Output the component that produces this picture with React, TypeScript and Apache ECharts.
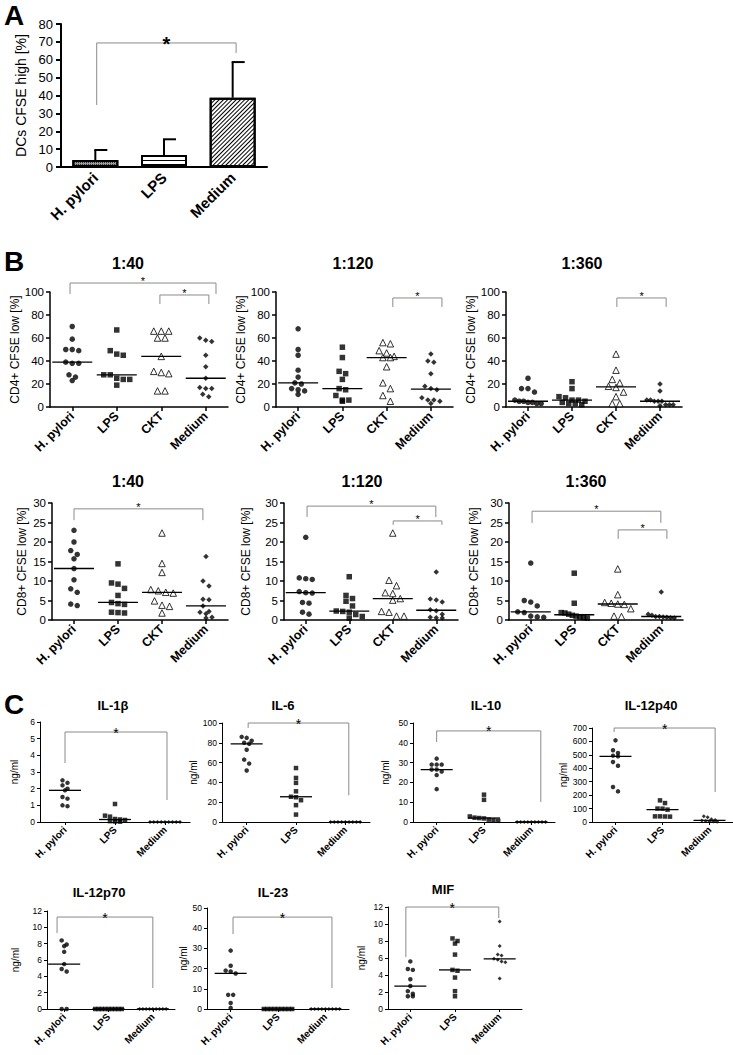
import React, { useEffect, useRef } from 'react';
import * as echarts from 'echarts';

const FONT = "'Liberation Sans', Arial, Helvetica, sans-serif";

// ---------- Panel A data ----------
const catsA = ['H. pylori', 'LPS', 'Medium'];
const meanA = [3.9, 6.7, 38.8];
const errA = [5.6, 8.8, 19.9];

// ---------- Panel B data ----------
const catsB = ['H. pylori', 'LPS', 'CKT', 'Medium'];
const cd4_1_40 = [
  [70, 59, 50, 50, 49, 39, 38, 38, 28, 26, 23],
  [67, 49, 46, 45, 28, 28, 25, 24, 24, 19],
  [66, 66, 66, 60, 60, 44, 31, 30, 29, 14, 14],
  [60, 58, 57, 45, 35, 25, 17, 16, 16, 11, 9],
];
const cd4_1_120 = [
  [68, 50, 45, 32, 26, 21, 20, 16, 15, 14, 11],
  [52, 43, 31, 29, 24, 16, 15, 10, 6, 6, 5],
  [56, 55, 49, 47, 44, 43, 43, 35, 21, 16, 10, 5],
  [46, 40, 39, 29, 18, 16, 15, 8, 6, 6, 5, 3],
];
const cd4_1_360 = [
  [25, 16, 16, 13, 6, 5, 5, 4, 4, 3, 3],
  [22, 16, 9, 8, 6, 6, 5, 4, 3, 3, 2],
  [46, 32, 24, 21, 18, 17, 13, 9, 3, 3],
  [20, 14, 6, 6, 5, 5, 5, 2, 2, 2, 1],
];
const cd8_1_40 = [
  [23, 20, 17.8, 16.8, 15.7, 13.2, 10.3, 8, 7.1, 4.1, 3.7],
  [14.4, 9.5, 9.2, 8.1, 6.3, 4.5, 4.2, 4.0, 2.0, 1.9, 1.8],
  [22.3, 14.5, 12.2, 7.8, 7.5, 7.1, 6.9, 4.9, 3.8, 3.5, 1.8],
  [16.3, 10, 8.7, 5.3, 5.2, 3.6, 2.2, 2.0, 1.6, 0.7, 0.5],
];
const cd8_1_120 = [
  [21.2, 10.8, 10.6, 10.4, 7.3, 7.0, 6.9, 4.5, 4.3, 2.0, 1.5],
  [11.1, 6.3, 5.5, 4.8, 3.6, 2.3, 2.2, 2.0, 1.4, 0.9, 0.5],
  [22.3, 10.2, 8.8, 7.0, 6.8, 5.5, 5.1, 2.2, 2.0, 1.0, 1.0],
  [12.3, 5.4, 5.1, 4.6, 2.6, 2.4, 1.5, 0.7, 0.6, 0.5],
];
const cd8_1_360 = [
  [14.6, 5.0, 4.6, 3.6, 2.1, 1.9, 1.0, 0.8, 0.7],
  [12, 4.3, 1.9, 1.8, 1.5, 1.2, 1.0, 0.8, 0.6, 0.5],
  [13.1, 6.5, 4.5, 4.3, 4.1, 4.0, 2.9, 1.0, 0.9],
  [7.2, 1.5, 1.2, 0.9, 0.9, 0.8, 0.7, 0.6, 0.5],
];

// ---------- Panel C data ----------
const catsC = ['H. pylori', 'LPS', 'Medium'];
const il1b = [
  [2.5, 2.35, 2.2, 2.0, 1.9, 1.5, 1.4, 1.0, 0.95],
  [1.08, 0.38, 0.32, 0.18, 0.15, 0.12, 0.05, 0.03, 0.02],
  [0, 0, 0, 0, 0, 0, 0, 0, 0],
];
const il6 = [
  [86, 85, 82, 80, 79, 73, 63, 59, 52],
  [54.5, 44.5, 39.5, 31, 25.5, 25, 22, 17, 7.5],
  [0, 0, 0, 0, 0, 0, 0, 0, 0],
];
const il10 = [
  [32, 29, 29, 29, 26.5, 26.5, 25.5, 23.7, 16.6],
  [13.8, 11.2, 2.8, 2.2, 2.0, 1.8, 1.2, 0.8, 0.6],
  [0, 0, 0, 0, 0, 0, 0, 0, 0],
];
const il12p40 = [
  [608, 534, 514, 494, 489, 447, 419, 261, 228],
  [161, 141, 100, 99, 92, 42, 42, 41, 40],
  [43, 35, 20, 15, 12, 8, 5, 3, 2],
];
const il12p70 = [
  [8.4, 7.9, 7.7, 7.0, 5.5, 4.9, 4.6, 0, 0],
  [0, 0, 0, 0, 0, 0, 0, 0, 0],
  [0, 0, 0, 0, 0, 0, 0, 0, 0],
];
const il23 = [
  [28.9, 21.4, 19, 18.6, 17.6, 7, 7, 3, 0.5],
  [0, 0, 0, 0, 0, 0, 0, 0, 0],
  [0, 0, 0, 0, 0, 0, 0, 0, 0],
];
const mif = [
  [5.6, 4.7, 4.6, 3.5, 2.7, 2.1, 1.8, 1.5, 1.5],
  [8.3, 8.0, 7.7, 6.4, 4.6, 4.5, 3.7, 2.1, 1.5],
  [10.3, 7.4, 6.4, 6.3, 5.9, 5.8, 5.6, 5.5, 3.6],
];

// ---------- layout (positions / styles) ----------
const plotsB = [
  { title: '1:40', data: cd4_1_40, yName: 'CD4+ CFSE low [%]', max: 100, interval: 20, left: 50, top: 292, width: 178, height: 115, titleX: 128, titleY: 263, nameGap: 27, brackets: [[-0.05, 3.23, 107.8, 98.3, 98.3], [1.97, 3.07, 97.4, 89.6, 89.6]] },
  { title: '1:120', data: cd4_1_120, yName: 'CD4+ CFSE low [%]', max: 100, interval: 20, left: 276, top: 292, width: 177, height: 115, titleX: 353, titleY: 263, nameGap: 24, brackets: [[2.14, 3.25, 94.8, 87, 87]] },
  { title: '1:360', data: cd4_1_360, yName: 'CD4+ CFSE low [%]', max: 100, interval: 20, left: 506, top: 292, width: 176, height: 115, titleX: 582, titleY: 263, nameGap: 26, brackets: [[2.02, 3.14, 94.8, 87, 87]] },
  { title: '1:40', data: cd8_1_40, yName: 'CD8+ CFSE low [%]', max: 30, interval: 5, left: 52, top: 503, width: 176, height: 117, titleX: 128, titleY: 481, nameGap: 24, brackets: [[0, 2.93, 28.5, 25.6, 25.6]] },
  { title: '1:120', data: cd8_1_120, yName: 'CD8+ CFSE low [%]', max: 30, interval: 5, left: 284, top: 503, width: 174, height: 117, titleX: 362, titleY: 481, nameGap: 32, brackets: [[0.03, 2.99, 29.2, 26.4, 26.4], [2.01, 3.13, 25.4, 24.4, 24.4]] },
  { title: '1:360', data: cd8_1_360, yName: 'CD8+ CFSE low [%]', max: 30, interval: 5, left: 509, top: 503, width: 174, height: 117, titleX: 586, titleY: 481, nameGap: 29, brackets: [[0.03, 2.99, 27.9, 24.9, 24.9], [2.01, 3.13, 23.1, 20.8, 20.8]] },
];

const plotsC = [
  { title: 'IL-1β', data: il1b, yName: 'ng/ml', max: 6, interval: 1, left: 40, top: 722, width: 150, height: 100, titleX: 113, titleY: 705, nameGap: 21, brackets: [[0, 2.04, 5.4, 3.54, 1.32]] },
  { title: 'IL-6', data: il6, yName: 'ng/ml', max: 100, interval: 20, left: 222, top: 723, width: 148, height: 99, titleX: 283, titleY: 705, nameGap: 17, brackets: [[0.03, 2.07, 100, 95, 27]] },
  { title: 'IL-10', data: il10, yName: 'ng/ml', max: 50, interval: 10, left: 413, top: 723, width: 142, height: 99, titleX: 486, titleY: 705, nameGap: 23, brackets: [[0, 2.2, 46, 40.4, 10.1]] },
  { title: 'IL-12p40', data: il12p40, yName: 'ng/ml', max: 700, interval: 100, left: 592, top: 728, width: 141, height: 94, titleX: 651, titleY: 705, nameGap: 21, brackets: [[-0.03, 2.12, 700, 670, 223]] },
  { title: 'IL-12p70', data: il12p70, yName: 'ng/ml', max: 12, interval: 2, left: 42, offset: -5, top: 911, width: 133, height: 98, titleX: 99, titleY: 892, nameGap: 27, brackets: [[-0.16, 2.0, 11.26, 9.3, 2.57]] },
  { title: 'IL-23', data: il23, yName: 'ng/ml', max: 50, interval: 10, left: 207, top: 908, width: 142, height: 101, titleX: 273, titleY: 892, nameGap: 15, brackets: [[0.05, 2.14, 45.5, 37.1, 10.4]] },
  { title: 'MIF', data: mif, yName: 'ng/ml', max: 12, interval: 2, left: 388, top: 907, width: 134, height: 102, titleX: 443, titleY: 889, nameGap: 22, brackets: [[-0.1, 1.98, 12, 6.1, 10.7]] },
];

const styleA = { tickFont: 13, catFont: 15, nameFont: 14, axisW: 2, tickLen: 5, labelMargin: 8, catMargin: 8, starFont: 20, starBold: true, starDy: 1 };
const styleB = { tickFont: 11.5, catFont: 12.5, nameFont: 12, axisW: 1.5, tickLen: 4, labelMargin: 6, catMargin: 7, medW: 40, starFont: 11, starBold: false, starDy: -1.8, titleFont: 16 };
const styleC = { tickFont: 8.5, catFont: 10, nameFont: 10, axisW: 1, tickLen: 3, labelMargin: 5, catMargin: 6, medW: 32, starFont: 14, starBold: false, starDy: 0.5, titleFont: 13 };

const symB = ['circle', 'rect', 'triangle', 'diamond'];
const sizeB = [5.5, 5.5, 6.5, 5.5];
const stepB = [6.5, 6.5, 7.5, 6];
const symC = ['circle', 'rect', 'diamond'];
const sizeC = [4.5, 4.5, 4];
const stepC = [5, 5, 3.8];

function median(a: number[]) {
  const s = [...a].sort((x, y) => x - y);
  const n = s.length;
  return n % 2 ? s[(n - 1) / 2] : (s[n / 2 - 1] + s[n / 2]) / 2;
}

// horizontal spreading of points that share nearly the same height (layout only)
function swarm(vals: number[], ppu: number, size: number, step: number, maxW: number) {
  const order = vals.map((_, i) => i).sort((a, b) => vals[b] - vals[a]);
  const off: number[] = vals.map(() => 0);
  let row: number[] = [];
  let rowStart = 0;
  const flush = () => {
    const n = row.length;
    const s = n > 1 ? Math.min(step, maxW / (n - 1)) : 0;
    row.forEach((id, k) => { off[id] = (k - (n - 1) / 2) * s; });
  };
  order.forEach((id) => {
    const py = vals[id] * ppu;
    if (row.length && rowStart - py < size) row.push(id);
    else { flush(); row = [id]; rowStart = py; }
  });
  flush();
  return off;
}

function buildOption() {
  const grid: any[] = [];
  const xAxis: any[] = [];
  const yAxis: any[] = [];
  const series: any[] = [];
  const graphic: any[] = [];

  const addText = (text: string, x: number, y: number, size: number, bold = true, align = 'center') => {
    graphic.push({ type: 'text', x, y, silent: true, style: { text, textAlign: align, textVerticalAlign: 'middle', fontFamily: FONT, fontSize: size, fontWeight: bold ? 'bold' : 'normal', fill: '#000' } });
  };

  const addAxes = (i: number, cfg: any, cats: string[], st: any, showXTick: boolean) => {
    grid.push({ left: cfg.left, top: cfg.top, width: cfg.width, height: cfg.height });
    xAxis.push({
      type: 'category', gridIndex: i, data: cats, boundaryGap: true,
      axisLine: { show: true, onZero: false, lineStyle: { color: '#000', width: st.axisW } },
      axisTick: { show: showXTick, alignWithLabel: true, length: st.tickLen, lineStyle: { color: '#000', width: st.axisW } },
      axisLabel: { interval: 0, rotate: 45, margin: st.catMargin, fontFamily: FONT, fontSize: st.catFont, fontWeight: 'bold', color: '#000' },
      splitLine: { show: false },
    });
    yAxis.push({
      type: 'value', gridIndex: i, min: 0, max: cfg.max, interval: cfg.interval, offset: cfg.offset || 0,
      name: cfg.yName, nameLocation: 'middle', nameGap: cfg.nameGap,
      nameTextStyle: { fontFamily: FONT, fontSize: st.nameFont, color: '#000' },
      axisLine: { show: true, lineStyle: { color: '#000', width: st.axisW } },
      axisTick: { show: true, length: st.tickLen, lineStyle: { color: '#000', width: st.axisW } },
      axisLabel: { margin: st.labelMargin, fontFamily: FONT, fontSize: st.tickFont, color: '#000' },
      splitLine: { show: false },
    });
  };

  const addBrackets = (i: number, brs: number[][], st: any) => {
    series.push({
      type: 'custom', xAxisIndex: i, yAxisIndex: i, silent: true, z: 6,
      data: brs.map((b) => [0, b[2]]),
      renderItem: (params: any, api: any) => {
        const b = brs[params.dataIndex];
        const x0 = api.coord([0, 0])[0];
        const band = api.coord([1, 0])[0] - x0;
        const X = (t: number) => x0 + t * band;
        const Y = (v: number) => api.coord([0, v])[1];
        const xl = X(b[0]);
        const xr = X(b[1]);
        const yt = Y(b[2]);
        return {
          type: 'group',
          children: [
            { type: 'polyline', shape: { points: [[xl, Y(b[3])], [xl, yt], [xr, yt], [xr, Y(b[4])]] }, style: { stroke: '#8a8a8a', lineWidth: 1, fill: 'none' } },
            { type: 'text', style: { text: '*', x: (xl + xr) / 2, y: yt + st.starDy, textAlign: 'center', textVerticalAlign: 'middle', fontFamily: FONT, fontSize: st.starFont, fontWeight: st.starBold ? 'bold' : 'normal', fill: '#000' } },
          ],
        };
      },
    });
  };

  const addScatterPlot = (i: number, cfg: any, cats: string[], st: any, syms: string[], sizes: number[], steps: number[]) => {
    addAxes(i, cfg, cats, st, true);
    const ppu = cfg.height / cfg.max;
    const band = cfg.width / cats.length;
    cfg.data.forEach((g: number[], k: number) => {
      const offs = swarm(g, ppu, sizes[k], steps[k], band * 0.6);
      const hollow = syms[k] === 'triangle';
      series.push({
        type: 'scatter', xAxisIndex: i, yAxisIndex: i, silent: true, clip: false, z: 3,
        symbol: syms[k], symbolSize: sizes[k],
        itemStyle: hollow ? { color: '#fff', borderColor: '#000', borderWidth: 1 } : { color: '#000' },
        data: g.map((v, j) => ({ value: [k, v], symbolOffset: [offs[j], 0] })),
      });
    });
    series.push({
      type: 'custom', xAxisIndex: i, yAxisIndex: i, silent: true, z: 4,
      data: cfg.data.map((g: number[], k: number) => [k, median(g)]),
      renderItem: (params: any, api: any) => {
        const c = api.coord([api.value(0), api.value(1)]);
        return { type: 'line', shape: { x1: c[0] - st.medW / 2, y1: c[1], x2: c[0] + st.medW / 2, y2: c[1] }, style: { stroke: '#000', lineWidth: 1.3 } };
      },
    });
    addBrackets(i, cfg.brackets, st);
    addText(cfg.title, cfg.titleX, cfg.titleY, st.titleFont, true);
  };

  // ---- Panel A ----
  const cfgA = { left: 61, top: 24, width: 206, height: 143, max: 80, interval: 10, yName: 'DCs CFSE high [%]', nameGap: 33 };
  addAxes(0, cfgA, catsA, styleA, false);
  const decals = [
    { symbol: 'rect', symbolSize: 1, dashArrayX: [1, 1], dashArrayY: [1, 1], color: '#333', rotation: 0 },
    { symbol: 'rect', symbolSize: 1, dashArrayX: [[4, 0]], dashArrayY: [1, 3], color: '#000', rotation: 0 },
    { symbol: 'rect', symbolSize: 1, dashArrayX: [[4, 0]], dashArrayY: [1, 2], color: '#000', rotation: -Math.PI / 4 },
  ];
  series.push({
    type: 'bar', xAxisIndex: 0, yAxisIndex: 0, barWidth: 46, silent: true, z: 2,
    data: meanA.map((m, k) => ({ value: m, itemStyle: { color: k === 0 ? '#999' : '#fff', borderColor: '#000', borderWidth: 2, decal: decals[k] } })),
  });
  series.push({
    type: 'custom', xAxisIndex: 0, yAxisIndex: 0, silent: true, z: 5,
    data: meanA.map((m, k) => [k, m, m + errA[k]]),
    renderItem: (params: any, api: any) => {
      const p0 = api.coord([api.value(0), api.value(1)]);
      const p1 = api.coord([api.value(0), api.value(2)]);
      return {
        type: 'group',
        children: [
          { type: 'line', shape: { x1: p0[0], y1: p0[1], x2: p1[0], y2: p1[1] }, style: { stroke: '#000', lineWidth: 2 } },
          { type: 'line', shape: { x1: p1[0] - 1, y1: p1[1], x2: p1[0] + 12, y2: p1[1] }, style: { stroke: '#000', lineWidth: 2 } },
        ],
      };
    },
  });
  addBrackets(0, [[0.02, 2.05, 69.4, 34.7, 63.8]], styleA);

  // ---- Panel B ----
  plotsB.forEach((cfg, j) => addScatterPlot(1 + j, cfg, catsB, styleB, symB, sizeB, stepB));
  // ---- Panel C ----
  plotsC.forEach((cfg, j) => addScatterPlot(7 + j, cfg, catsC, styleC, symC, sizeC, stepC));

  // panel letters
  addText('A', 4, 15, 28, true, 'left');
  addText('B', 4, 261, 28, true, 'left');
  addText('C', 4, 704, 28, true, 'left');

  return { animation: false, backgroundColor: '#fff', grid, xAxis, yAxis, series, graphic };
}

export default function App() {
  const ref = useRef<HTMLDivElement>(null);
  useEffect(() => {
    const chart = echarts.init(ref.current!, null, { renderer: 'svg' });
    chart.setOption(buildOption() as any);
    return () => chart.dispose();
  }, []);
  return <div ref={ref} style={{ position: 'absolute', left: 0, top: 0, width: 733, height: 1055 }} />;
}
